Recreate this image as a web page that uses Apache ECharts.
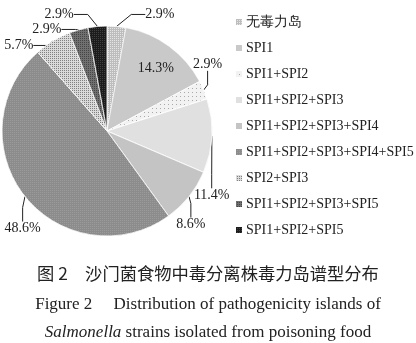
<!DOCTYPE html>
<html><head><meta charset="utf-8">
<script src="https://cdn.jsdelivr.net/npm/echarts@6/dist/echarts.min.js"></script>
<style>html,body{margin:0;padding:0;background:#fff}#c{width:416px;height:343px}</style>
</head><body><div id="c"></div>
<script>
const categories = ['无毒力岛','SPI1','SPI1+SPI2','SPI1+SPI2+SPI3','SPI1+SPI2+SPI3+SPI4','SPI1+SPI2+SPI3+SPI4+SPI5','SPI2+SPI3','SPI1+SPI2+SPI3+SPI5','SPI1+SPI2+SPI5'];
const percents = [2.9,14.3,2.9,11.4,8.6,48.6,5.7,2.9,2.9];
const colors = ['#bdbdbd','#c9c9c9','#f2f2f2','#e0e0e0','#c4c4c4','#8c8c8c','#dadada','#707070','#1c1c1c'];
const decals = [
  {symbol:'rect',symbolSize:1,color:'rgba(255,255,255,0.6)',dashArrayX:[1,1],dashArrayY:[1,1]},
  null,
  {symbol:'rect',symbolSize:1,color:'rgba(120,120,120,0.6)',dashArrayX:[1,3],dashArrayY:[1,3]},
  {symbol:'rect',symbolSize:1,color:'rgba(255,255,255,0.8)',dashArrayX:[[3,2]],dashArrayY:[[3,2]]},
  {symbol:'rect',symbolSize:1,color:'rgba(255,255,255,0.8)',dashArrayX:[[2,3]],dashArrayY:[[1,0]]},
  {symbol:'rect',symbolSize:1,color:'rgba(170,170,170,0.5)',dashArrayX:[1,1],dashArrayY:[1,1]},
  {symbol:'rect',symbolSize:1,color:'rgba(90,90,90,0.7)',dashArrayX:[1,1],dashArrayY:[1,1]},
  {symbol:'rect',symbolSize:1,color:'rgba(40,40,40,0.6)',dashArrayX:[1,1],dashArrayY:[1,1]},
  {symbol:'rect',symbolSize:1,color:'rgba(90,90,90,0.6)',dashArrayX:[1,1],dashArrayY:[1,1]}
];
// label nudges (px) to match the reference label placement
const labelShift = [[9,-4],[0,0],[-37,-23],[-45,59],[-38,23],[41,27],[20,-5],[28,-5],[-4,-4]];
const serif = '"Liberation Serif","Times New Roman",serif';
const data = categories.map((n,i)=>{
  const d = {name:n, value:percents[i], itemStyle:{color:colors[i]}};
  if (decals[i]) d.itemStyle.decal = decals[i];
  if (i===1) d.label = {position:'inside', offset:[16,-18]};
  return d;
});
const chart = echarts.init(document.getElementById('c'));
chart.setOption({
  aria:{enabled:false},
  animation:false,
  legend:{
    orient:'vertical', left:229, top:10, itemWidth:8, itemHeight:8, itemGap:12,
    icon:'rect',
    textStyle:{fontFamily:serif, fontSize:14, color:'#222', padding:[0,0,0,-2]},
    data:categories
  },
  title:[
    {text:'图 2　沙门菌食物中毒分离株毒力岛谱型分布', left:'center', top:260,
     textStyle:{fontFamily:'"Noto Sans CJK SC"', fontSize:17.3, fontWeight:'normal', color:'#222'}},
    {text:'Figure 2　 Distribution of pathogenicity islands of', left:'center', top:291,
     textStyle:{fontFamily:serif, fontSize:17, fontWeight:'normal', color:'#222'}},
    {text:'{i|Salmonella} strains isolated from poisoning food', left:'center', top:319,
     textStyle:{fontFamily:serif, fontSize:17, fontWeight:'normal', color:'#222',
       rich:{i:{fontFamily:serif, fontSize:17, fontStyle:'italic', color:'#222'}}}}
  ],
  series:[{
    type:'pie', center:[107,131], radius:[0,105], startAngle:90, clockwise:true,
    avoidLabelOverlap:true,
    itemStyle:{borderColor:'#fff', borderWidth:0.5},
    label:{formatter:p=>p.value.toFixed(1)+'%', fontFamily:serif, fontSize:14, color:'#222', overflow:'none'},
    labelLine:{length:8, length2:14, lineStyle:{color:'#222', width:1}},
    labelLayout:p=>{
      if (p.dataIndex===1) return {};
      const s = labelShift[p.dataIndex];
      const r = p.labelRect;
      return {x:r.x + r.width/2 + s[0], y:r.y + r.height/2 + s[1], align:'center', verticalAlign:'middle'};
    },
    emphasis:{disabled:true},
    data:data
  }]
});
</script></body></html>
